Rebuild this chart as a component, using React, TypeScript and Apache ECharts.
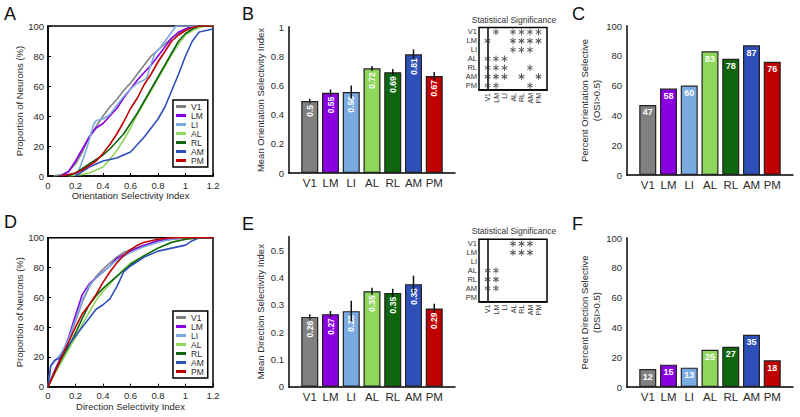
import React, { useEffect, useRef } from 'react';
import * as echarts from 'echarts';

const areas = ['V1', 'LM', 'LI', 'AL', 'RL', 'AM', 'PM'];
const colors = ['#808080', '#8a00e0', '#79aae0', '#8ed65c', '#0f660f', '#2f4fb8', '#c00000'];

// Panel A: cumulative distribution of OSI (x = OSI, y = % of neurons)
const osiV1 = [[0.04,0],[0.1,1],[0.15,3],[0.2,8],[0.25,16],[0.3,26],[0.35,33],[0.4,40],[0.45,46],[0.5,51],[0.55,57],[0.6,62],[0.65,68],[0.7,74],[0.75,80],[0.8,84],[0.85,88],[0.9,92],[0.95,95],[1.0,98],[1.05,100],[1.2,100]];
const osiLM = [[0.1,0],[0.15,3],[0.2,10],[0.25,18],[0.3,26],[0.35,32],[0.4,35],[0.45,40],[0.5,45],[0.55,52],[0.6,58],[0.65,64],[0.7,69],[0.75,74],[0.8,80],[0.85,86],[0.9,92],[0.95,96],[1.0,98],[1.05,100],[1.2,100]];
const osiLI = [[0.2,0],[0.22,3],[0.25,10],[0.28,18],[0.3,24],[0.33,34],[0.35,37],[0.4,38],[0.45,41],[0.5,47],[0.55,53],[0.6,58],[0.65,62],[0.7,64],[0.72,66],[0.75,75],[0.78,82],[0.82,86],[0.86,91],[0.9,96],[0.93,100],[1.2,100]];
const osiAL = [[0.15,0],[0.25,1],[0.3,2],[0.35,4],[0.4,6],[0.45,11],[0.5,17],[0.55,24],[0.6,32],[0.65,41],[0.7,49],[0.75,57],[0.8,65],[0.85,73],[0.9,81],[0.95,88],[1.0,94],[1.05,97],[1.1,99],[1.15,100],[1.2,100]];
const osiRL = [[0.15,0],[0.2,2],[0.25,5],[0.3,8],[0.35,11],[0.4,14],[0.45,18],[0.5,23],[0.55,28],[0.6,35],[0.65,42],[0.7,50],[0.75,58],[0.8,66],[0.85,74],[0.9,82],[0.95,90],[1.0,95],[1.05,98],[1.1,100],[1.2,100]];
const osiAM = [[0.2,0],[0.25,3],[0.3,6],[0.35,8],[0.4,10],[0.45,11],[0.5,12],[0.55,14],[0.6,16],[0.65,21],[0.7,26],[0.75,32],[0.8,38],[0.85,46],[0.9,57],[0.95,68],[1.0,80],[1.05,90],[1.1,96],[1.15,97],[1.2,98]];
const osiPM = [[0.1,0],[0.15,1],[0.2,2],[0.25,4],[0.3,7],[0.35,10],[0.4,15],[0.45,21],[0.5,28],[0.55,36],[0.6,45],[0.65,52],[0.7,61],[0.75,68],[0.8,76],[0.85,83],[0.9,90],[0.95,94],[1.0,97],[1.05,99],[1.1,100],[1.2,100]];
const osiCdf = [osiV1, osiLM, osiLI, osiAL, osiRL, osiAM, osiPM];

// Panel D: cumulative distribution of DSI
const dsiV1 = [[0,0],[0.05,11],[0.1,21],[0.15,31],[0.2,44],[0.25,57],[0.3,67],[0.35,74],[0.4,79],[0.45,83],[0.5,87],[0.55,90],[0.6,92],[0.7,95],[0.8,98],[0.9,100],[1.2,100]];
const dsiLM = [[0,0],[0.05,11],[0.1,21],[0.15,33],[0.2,48],[0.25,62],[0.3,69],[0.35,73],[0.4,77],[0.45,81],[0.5,86],[0.6,91],[0.7,95],[0.8,98],[0.9,99],[1.0,100],[1.2,100]];
const dsiLI = [[0,0],[0.02,14],[0.05,17],[0.1,23],[0.15,32],[0.2,45],[0.25,58],[0.3,68],[0.35,73],[0.4,77],[0.5,85],[0.6,90],[0.7,94],[0.8,97],[0.9,99],[1.0,100],[1.2,100]];
const dsiAL = [[0,0],[0.05,9],[0.1,17],[0.15,25],[0.2,33],[0.25,42],[0.3,50],[0.35,58],[0.4,64],[0.45,69],[0.5,74],[0.55,79],[0.6,83],[0.7,88],[0.8,93],[0.9,97],[1.0,99],[1.1,100],[1.2,100]];
const dsiRL = [[0,0],[0.05,10],[0.1,19],[0.15,27],[0.2,36],[0.25,46],[0.3,55],[0.35,61],[0.4,66],[0.45,70],[0.5,74],[0.55,78],[0.6,82],[0.7,88],[0.8,93],[0.9,97],[1.0,99],[1.1,100],[1.2,100]];
const dsiAM = [[0,0],[0.02,14],[0.05,18],[0.08,19],[0.1,21],[0.15,28],[0.2,34],[0.25,40],[0.3,46],[0.35,52],[0.4,55],[0.45,59],[0.5,67],[0.55,77],[0.6,81],[0.7,87],[0.8,91],[0.9,93],[1.0,95],[1.05,98],[1.1,100],[1.2,100]];
const dsiPM = [[0,0],[0.05,10],[0.1,20],[0.15,30],[0.2,40],[0.25,49],[0.3,55],[0.35,62],[0.4,70],[0.45,77],[0.5,83],[0.55,88],[0.6,92],[0.65,95],[0.7,97],[0.8,99],[0.9,100],[1.2,100]];
const dsiCdf = [dsiV1, dsiLM, dsiLI, dsiAL, dsiRL, dsiAM, dsiPM];

// Panels B, C, E, F
const meanOsi = [0.493, 0.55, 0.555, 0.717, 0.69, 0.813, 0.664];
const meanOsiErr = [0.016, 0.023, 0.045, 0.016, 0.022, 0.034, 0.028];
const meanOsiLabels = ['0.5', '0.55', '0.56', '0.72', '0.69', '0.81', '0.67'];
const pctOsi = [47, 58, 60, 83, 78, 87, 76];
const meanDsi = [0.256, 0.266, 0.277, 0.35, 0.344, 0.376, 0.287];
const meanDsiErr = [0.01, 0.012, 0.038, 0.013, 0.015, 0.031, 0.017];
const meanDsiLabels = ['0.26', '0.27', '0.28', '0.35', '0.35', '0.38', '0.29'];
const pctDsi = [12, 15, 13, 25, 27, 35, 18];

// Significance matrices: for each row area, the column areas marked significant
const osiSig = [[1, 3, 4, 5, 6], [0, 3, 4, 5, 6], [3, 4, 5], [0, 1, 2], [0, 1, 2, 5], [0, 1, 2, 4, 6], [0, 1, 5]];
const dsiSig = [[3, 4, 5], [3, 4, 5], [], [0, 1], [0, 1], [0, 1], []];

const FONT = 'Liberation Sans, Arial, sans-serif';
const TXT = '#2a2a2a';
const STAR = 'path://M-0.15,-1L0.15,-1L0.15,1L-0.15,1Z M0.791,-0.63L0.941,-0.37L-0.791,0.63L-0.941,0.37Z M-0.941,-0.37L-0.791,-0.63L0.941,0.37L0.791,0.63Z';

function cdfAxes(xName: string, xGap: number) {
  return {
    x: {
      type: 'value', min: 0, max: 1.2, interval: 0.2,
      axisLine: { show: true, lineStyle: { color: '#000', width: 1.5 } },
      axisTick: { show: true, inside: true, length: 3, lineStyle: { color: '#000' } },
      axisLabel: { fontSize: 9.5, color: TXT, margin: 4, fontFamily: FONT },
      splitLine: { show: false },
      name: xName, nameLocation: 'middle', nameGap: xGap,
      nameTextStyle: { fontSize: 9.5, color: TXT, fontFamily: FONT },
    },
    y: {
      type: 'value', min: 0, max: 100, interval: 20,
      axisLine: { show: true, lineStyle: { color: '#000', width: 1.5 } },
      axisTick: { show: true, inside: true, length: 3, lineStyle: { color: '#000' } },
      axisLabel: { fontSize: 9.5, color: TXT, margin: 4, fontFamily: FONT },
      splitLine: { show: false },
      name: 'Proportion of Neurons (%)', nameLocation: 'middle', nameGap: 20,
      nameTextStyle: { fontSize: 9.5, color: TXT, fontFamily: FONT },
    },
  };
}

function barXAxis() {
  return {
    type: 'value', min: 0, max: 8, interval: 1,
    axisLine: { show: true, lineStyle: { color: '#000', width: 1.5 } },
    axisTick: { show: false },
    axisLabel: { fontSize: 11.5, color: TXT, margin: 4, fontFamily: FONT, formatter: (v: number) => areas[v - 1] ?? '' },
    splitLine: { show: false },
  };
}

function barYAxis(max: number, interval: number, name: string, gap: number, hideMax = false) {
  return {
    type: 'value', min: 0, max, interval,
    axisLine: { show: true, lineStyle: { color: '#444', width: 2 } },
    axisTick: { show: false },
    axisLabel: { fontSize: 9.5, color: TXT, margin: 5, fontFamily: FONT, showMaxLabel: !hideMax },
    splitLine: { show: false },
    name, nameLocation: 'middle', nameGap: gap,
    nameTextStyle: { fontSize: 9.5, color: TXT, fontFamily: FONT, lineHeight: 12 },
  };
}

function matrixAxes() {
  return {
    x: {
      type: 'value', min: -1, max: 7, interval: 1,
      axisLine: { show: true, lineStyle: { color: '#000', width: 1.5 } },
      axisTick: { show: false },
      axisLabel: { rotate: 90, fontSize: 7, color: '#333', margin: 3, fontFamily: FONT, formatter: (v: number) => areas[v] ?? '' },
      splitLine: { show: false },
    },
    y: {
      type: 'category', data: areas, inverse: true,
      axisLine: { show: true, lineStyle: { color: '#000', width: 1.5 } },
      axisTick: { show: false },
      axisLabel: { interval: 0, fontSize: 7.5, color: '#333', margin: 2, fontFamily: FONT },
      splitLine: { show: false },
    },
  };
}

const errRender = (params: any, api: any) => {
  const x = api.value(0);
  const p1 = api.coord([x, api.value(1)]);
  const p2 = api.coord([x, api.value(2)]);
  return {
    type: 'line',
    shape: { x1: p1[0], y1: p1[1], x2: p2[0], y2: p2[1] },
    style: { stroke: '#111', lineWidth: 1.5 },
  };
};

function buildOption() {
  const a = cdfAxes('Orientation Selectivity Index', 12);
  const d = cdfAxes('Direction Selectivity Index', 14);
  const ma = matrixAxes();
  const md = matrixAxes();
  const gridBase = { containLabel: false, outerBoundsMode: 'none' };
  const framed = { show: true, borderColor: '#000', borderWidth: 1.5, backgroundColor: 'transparent' };

  const series: any[] = [];
  osiCdf.forEach((pts, i) => series.push({
    type: 'line', name: areas[i], xAxisIndex: 0, yAxisIndex: 0, data: pts,
    showSymbol: false, symbol: 'none', color: colors[i], itemStyle: { color: colors[i] },
    lineStyle: { color: colors[i], width: 1.6 }, z: 2 + i,
  }));
  dsiCdf.forEach((pts, i) => series.push({
    type: 'line', name: areas[i], xAxisIndex: 1, yAxisIndex: 1, data: pts,
    showSymbol: false, symbol: 'none', color: colors[i], itemStyle: { color: colors[i] },
    lineStyle: { color: colors[i], width: 1.6 }, z: 2 + i,
  }));

  const barSeries = (idx: number, vals: number[], labels: string[] | null, rotated: boolean, nm: string) => ({
    type: 'bar', name: nm, xAxisIndex: idx, yAxisIndex: idx, barWidth: 17,
    data: vals.map((v, i) => ({ value: [i + 1, v], itemStyle: { color: colors[i] } })),
    itemStyle: { borderColor: '#222', borderWidth: 1.2 },
    label: rotated
      ? { show: true, position: 'insideTop', rotate: 90, align: 'right', verticalAlign: 'middle', distance: 4, color: '#fff', fontWeight: 'bold', fontSize: 8.5, fontFamily: FONT, formatter: (p: any) => labels![p.dataIndex] }
      : { show: true, position: 'insideTop', distance: 3, color: '#fff', fontWeight: 'bold', fontSize: 9, fontFamily: FONT, formatter: (p: any) => String(vals[p.dataIndex]) },
  });

  series.push(barSeries(2, meanOsi, meanOsiLabels, true, 'Mean OSI'));
  series.push({ type: 'custom', name: 'OSI SEM', xAxisIndex: 2, yAxisIndex: 2, renderItem: errRender, encode: { x: 0, y: [1, 2] }, z: 5,
    data: meanOsi.map((v, i) => [i + 1, v - meanOsiErr[i], v + meanOsiErr[i]]) });
  series.push(barSeries(3, pctOsi, null, false, 'Percent OSI'));
  series.push(barSeries(4, meanDsi, meanDsiLabels, true, 'Mean DSI'));
  series.push({ type: 'custom', name: 'DSI SEM', xAxisIndex: 4, yAxisIndex: 4, renderItem: errRender, encode: { x: 0, y: [1, 2] }, z: 5,
    data: meanDsi.map((v, i) => [i + 1, v - meanDsiErr[i], v + meanDsiErr[i]]) });
  series.push(barSeries(5, pctDsi, null, false, 'Percent DSI'));

  const sigSeries = (idx: number, sig: number[][], nm: string) => ({
    type: 'scatter', name: nm, xAxisIndex: idx, yAxisIndex: idx, symbol: STAR, symbolSize: [6, 6.5],
    itemStyle: { color: '#333' },
    data: sig.flatMap((cols, r) => cols.map((c) => [c, r])),
  });
  series.push(sigSeries(6, osiSig, 'OSI significance'));
  series.push(sigSeries(7, dsiSig, 'DSI significance'));

  const legendBase = {
    data: areas, orient: 'vertical', left: 173, itemWidth: 10, itemHeight: 3, itemGap: 0, icon: 'rect',
    padding: [2, 4, 2, 3], borderColor: '#000', borderWidth: 1.5, backgroundColor: '#fff', selectedMode: false,
    textStyle: { fontSize: 8.5, color: TXT, fontFamily: FONT },
  };

  const letter = (t: string, x: number, y: number) => ({
    type: 'text', x, y, style: { text: t, fontSize: 18, fontFamily: FONT, fill: '#111', align: 'left', verticalAlign: 'top' },
  });
  const sigTitle = (y: number) => ({
    type: 'text', x: 514, y, style: { text: 'Statistical Significance', fontSize: 8.5, fontFamily: FONT, fill: '#333', align: 'center', verticalAlign: 'middle' },
  });

  return {
    animation: false,
    backgroundColor: '#fff',
    textStyle: { fontFamily: FONT },
    grid: [
      { ...gridBase, ...framed, left: 48, top: 26, width: 165, height: 150 },
      { ...gridBase, ...framed, left: 48, top: 237.7, width: 165, height: 149 },
      { ...gridBase, left: 289, top: 27, width: 166, height: 146 },
      { ...gridBase, left: 627, top: 26, width: 166, height: 149 },
      { ...gridBase, left: 289, top: 236.7, width: 166, height: 150 },
      { ...gridBase, left: 627, top: 238, width: 166, height: 149 },
      { ...gridBase, ...framed, left: 479, top: 27.5, width: 68, height: 62.5 },
      { ...gridBase, ...framed, left: 479, top: 239.2, width: 68, height: 62.5 },
    ],
    xAxis: [
      { ...a.x, gridIndex: 0 },
      { ...d.x, gridIndex: 1 },
      { ...barXAxis(), gridIndex: 2 },
      { ...barXAxis(), gridIndex: 3 },
      { ...barXAxis(), gridIndex: 4 },
      { ...barXAxis(), gridIndex: 5 },
      { ...ma.x, gridIndex: 6 },
      { ...md.x, gridIndex: 7 },
    ],
    yAxis: [
      { ...a.y, gridIndex: 0 },
      { ...d.y, gridIndex: 1 },
      { ...barYAxis(1, 0.2, 'Mean Orientation Selectivity Index', 22), gridIndex: 2 },
      { ...barYAxis(100, 20, 'Percent Orientation Selective\n(OSI>0.5)', 17), gridIndex: 3 },
      { ...barYAxis(0.55, 0.1, 'Mean Direction Selectivity Index', 22, true), gridIndex: 4 },
      { ...barYAxis(100, 20, 'Percent Direction Selective\n(DSI>0.5)', 17), gridIndex: 5 },
      { ...ma.y, gridIndex: 6 },
      { ...md.y, gridIndex: 7 },
    ],
    legend: [
      { ...legendBase, top: 100 },
      { ...legendBase, top: 311 },
    ],
    graphic: [
      letter('A', 4, 5), letter('B', 242, 5), letter('C', 572, 5),
      letter('D', 4, 213), letter('E', 242, 215), letter('F', 572, 215),
      sigTitle(19.5), sigTitle(231),
    ],
    series,
  };
}

export default function App() {
  const ref = useRef<HTMLDivElement>(null);
  useEffect(() => {
    const chart = echarts.init(ref.current!, null, { renderer: 'svg' });
    chart.setOption(buildOption() as any);
    return () => chart.dispose();
  }, []);
  return <div ref={ref} style={{ position: 'fixed', left: 0, top: 0, width: 800, height: 417, background: '#fff' }} />;
}
